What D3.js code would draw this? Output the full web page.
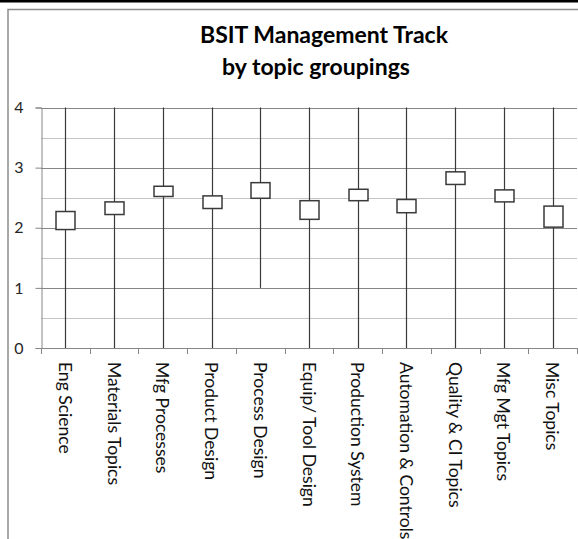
<!DOCTYPE html>
<html>
<head>
<meta charset="utf-8">
<script src="https://cdn.jsdelivr.net/npm/d3@7"></script>
<style>
  body { margin: 0; background: #fff; }
  svg { display: block; }
  text { font-family: Lato, "Open Sans", sans-serif; }
</style>
</head>
<body>
<div id="chart"></div>
<script>
// topic groups and their ratings (hi-lo line + box)
const topics = ["Eng Science", "Materials Topics", "Mfg Processes", "Product Design",
  "Process Design", "Equip/ Tool Design", "Production System", "Automation & Controls",
  "Quality & CI Topics", "Mfg Mgt Topics", "Misc Topics"];
const lows      = [0, 0, 0, 0, 1, 0, 0, 0, 0, 0, 0];
const highs     = [4, 4, 4, 4, 4, 4, 4, 4, 4, 4, 4];
const boxBottom = [1.97, 2.22, 2.52, 2.32, 2.49, 2.14, 2.45, 2.25, 2.72, 2.43, 2.01];
const boxTop    = [2.27, 2.43, 2.69, 2.53, 2.75, 2.45, 2.64, 2.47, 2.93, 2.63, 2.36];
const yTicks = [0, 1, 2, 3, 4];
const yGrid = [0.5, 1, 1.5, 2, 2.5, 3, 3.5, 4];

const W = 578, H = 539;
const padLeft = 41, padRight = 577, padTop = 107.5, padBottom = 348;

const svg = d3.select("#chart").append("svg")
  .attr("width", W).attr("height", H);

// cut-off strip from the page above
svg.append("rect").attr("x", 0).attr("y", 0).attr("width", W).attr("height", 2.5).attr("fill", "#000");

// chart area border (only top and left are visible)
svg.append("path")
  .attr("d", `M8,${H} L8,9.5 L${W},9.5`)
  .attr("fill", "none").attr("stroke", "#8c8c8c").attr("stroke-width", 1.5);

// title
const title = svg.append("text")
  .attr("text-anchor", "middle")
  .attr("font-weight", "bold")
  .attr("font-size", 23)
  .attr("fill", "#000");
title.append("tspan").attr("x", 324).attr("y", 43).text("BSIT Management Track");
title.append("tspan").attr("x", 316).attr("y", 75).text("by topic groupings");

const x = d3.scaleBand().domain(topics).range([padLeft, padRight]).padding(0);
const y = d3.scaleLinear().domain([0, 4]).range([padBottom, padTop]);

// gridlines
svg.append("g")
  .selectAll("line")
  .data(yGrid)
  .enter()
  .append("line")
    .attr("x1", padLeft).attr("x2", padRight)
    .attr("y1", d => Math.round(y(d)) + 0.5).attr("y2", d => Math.round(y(d)) + 0.5)
    .attr("stroke", d => Number.isInteger(d) ? "#868686" : "#c4c4c4")
    .attr("stroke-width", 1);

// y axis
const yAxis = d3.axisLeft(y).tickValues(yTicks).tickFormat(d3.format("d"))
  .tickSize(6).tickPadding(12);
const gy = svg.append("g")
  .attr("transform", `translate(${padLeft + 0.5},0)`)
  .call(yAxis);
gy.select(".domain").attr("stroke", "#868686");
gy.selectAll(".tick line").attr("stroke", "#868686");
gy.selectAll(".tick text")
  .style("font-size", "16px")
  .style("font-family", "Lato, sans-serif")
  .attr("fill", "#262626");

// x axis line + ticks at band edges
svg.append("line")
  .attr("x1", padLeft).attr("x2", padRight)
  .attr("y1", Math.round(y(0)) + 0.5).attr("y2", Math.round(y(0)) + 0.5)
  .attr("stroke", "#868686");
const edges = topics.map(d => x(d)).concat([padRight]);
svg.append("g")
  .selectAll("line")
  .data(edges)
  .enter()
  .append("line")
    .attr("x1", d => Math.round(d) + 0.5).attr("x2", d => Math.round(d) + 0.5)
    .attr("y1", y(0)).attr("y2", y(0) + 6)
    .attr("stroke", "#868686");

// hi-lo lines
const cx = d => x(d) + x.bandwidth() / 2;
svg.append("g")
  .selectAll("line")
  .data(topics)
  .enter()
  .append("line")
    .attr("x1", d => Math.round(cx(d)) + 0.5).attr("x2", d => Math.round(cx(d)) + 0.5)
    .attr("y1", (d, i) => y(lows[i])).attr("y2", (d, i) => y(highs[i]))
    .attr("stroke", "#3a3a3a").attr("stroke-width", 1.2);

// boxes
const bw = 19;
svg.append("g")
  .selectAll("rect")
  .data(topics)
  .enter()
  .append("rect")
    .attr("x", d => Math.round(cx(d)) + 0.5 - bw / 2)
    .attr("y", (d, i) => y(boxTop[i]))
    .attr("width", bw)
    .attr("height", (d, i) => y(boxBottom[i]) - y(boxTop[i]))
    .attr("fill", "#fff")
    .attr("stroke", "#3a3a3a").attr("stroke-width", 1.5);

// category labels, rotated to read downward
svg.append("g")
  .selectAll("text")
  .data(topics)
  .enter()
  .append("text")
    .attr("transform", d => `translate(${cx(d)},362) rotate(90)`)
    .attr("text-anchor", "start")
    .attr("dominant-baseline", "central")
    .attr("font-size", 17.5)
    .attr("fill", "#111")
    .text(d => d);
</script>
</body>
</html>
